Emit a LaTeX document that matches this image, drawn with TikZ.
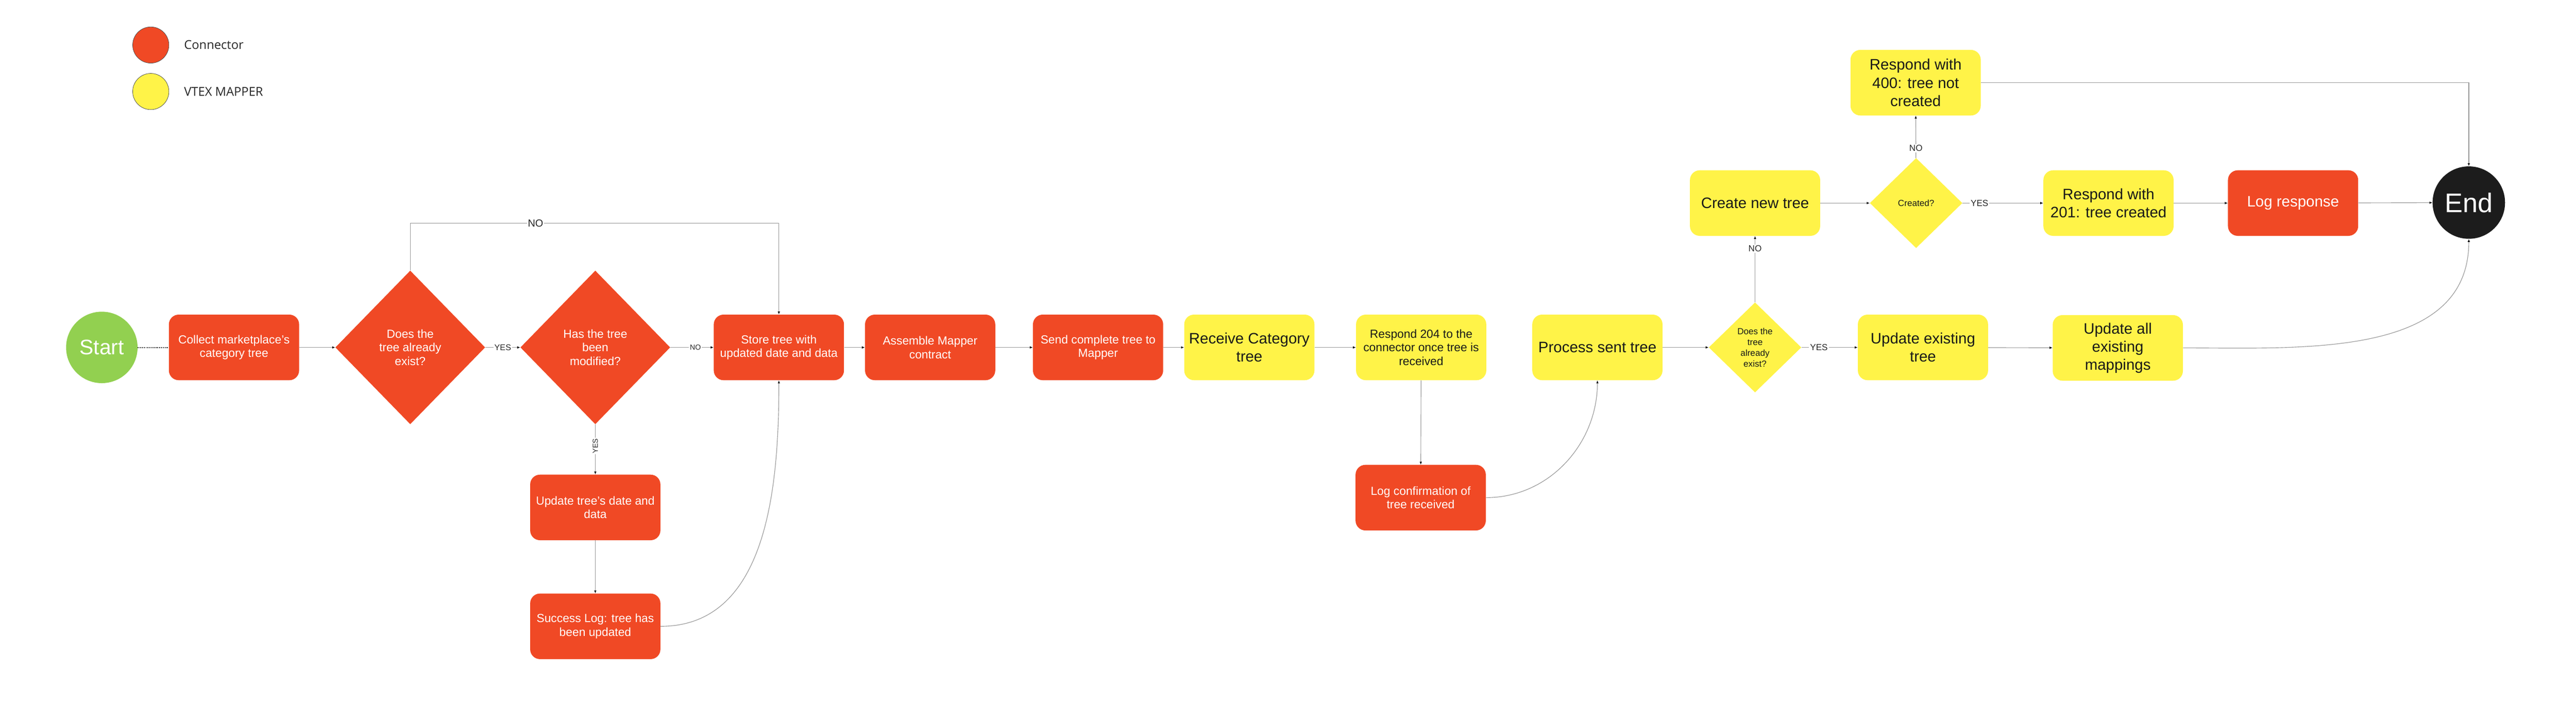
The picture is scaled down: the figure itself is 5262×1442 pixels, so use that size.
\documentclass[tikz,border=0pt]{standalone}
\usepackage{fontspec}
\setmainfont{Liberation Sans}
\newfontfamily\legendfont{Open Sans}
\usetikzlibrary{shapes.geometric,arrows.meta}

\definecolor{connred}{RGB}{240,73,37}
\definecolor{mapyellow}{RGB}{255,243,72}
\definecolor{startgreen}{RGB}{146,208,80}
\definecolor{endblack}{RGB}{28,28,28}
\definecolor{linegray}{RGB}{150,150,150}

\tikzset{
  box/.style={rectangle, rounded corners=10pt, minimum width=133pt, minimum height=67pt, inner sep=2pt, align=center, font=\fontsize{12}{14}\selectfont},
  redbox/.style={box, fill=connred, text=white},
  yellowbox/.style={box, fill=mapyellow, text=black!90},
  bigtext/.style={font=\fontsize{15.5}{18.5}\selectfont},
  reddiamond/.style={diamond, fill=connred, text=white, minimum width=153pt, minimum height=157pt, inner sep=0pt, align=center, font=\fontsize{12}{14}\selectfont},
  yellowdiamond/.style={diamond, fill=mapyellow, text=black!90, minimum width=94.5pt, minimum height=92pt, inner sep=0pt, align=center, font=\fontsize{9}{11}\selectfont},
  terminal/.style={circle, inner sep=0pt, text=white},
  legendball/.style={circle, draw=black!70, line width=0.4pt, minimum size=37pt, inner sep=0pt},
  legendtext/.style={anchor=west, font=\legendfont\fontsize{12.5}{14}\selectfont, text=black!85},
  flow/.style={draw=linegray, line width=0.6pt, -{Latex[length=3pt,width=2.5pt,color=black]}},
  lbl/.style={fill=white, inner sep=1pt, text=black!85, font=\fontsize{9}{10}\selectfont},
  smalllbl/.style={lbl, font=\fontsize{7.5}{8}\selectfont}
}

\begin{document}
\begin{tikzpicture}[x=0.5pt,y=0.5pt,yscale=-1,xscale=1]
\useasboundingbox (0,0) rectangle (5262,1442);

% legend
\node[legendball, fill=connred] (legred) at (308,92) {};
\node[legendtext] (legredtxt) at (369,92) {Connector};
\node[legendball, fill=mapyellow] (legyellow) at (308,187) {};
\node[legendtext] (legyellowtxt) at (369,187) {VTEX MAPPER};

% main row
\node[terminal, fill=startgreen, minimum size=73pt, font=\fontsize{21.5}{24}\selectfont] (start) at (208,710) {Start};
\node[redbox] (collect) at (478,710) {Collect marketplace's\\category tree};
\node[reddiamond] (exist1) at (838,710) {Does the\\tree already\\exist?};
\node[reddiamond] (modified) at (1216,710) {Has the tree\\been\\modified?};
\node[redbox] (store) at (1591,710) {Store tree with\\updated date and data};
\node[redbox] (assemble) at (1900,710) {Assemble Mapper\\contract};
\node[redbox] (send) at (2243,710) {Send complete tree to\\Mapper};
\node[yellowbox, bigtext] (receive) at (2552,710) {Receive Category\\tree};
\node[yellowbox] (resp204) at (2903,710) {Respond 204 to the\\connector once tree is\\received};
\node[yellowbox, bigtext] (process) at (3263,710) {Process sent tree};
\node[yellowdiamond] (exist2) at (3585,710) {Does the\\tree\\already\\exist?};
\node[yellowbox, bigtext] (updexist) at (3928,710) {Update existing\\tree};
\node[yellowbox, bigtext] (updall) at (4326,711) {Update all\\existing\\mappings};

% lower row
\node[redbox] (upddate) at (1216,1037) {Update tree's date and\\data};
\node[redbox] (success) at (1216,1280) {Success Log: tree has\\been updated};
\node[redbox] (logconf) at (2902,1017) {Log confirmation of\\tree received};

% upper row
\node[yellowbox, bigtext] (create) at (3585,415) {Create new tree};
\node[yellowdiamond] (created) at (3914,415) {Created?};
\node[yellowbox, bigtext] (resp201) at (4307,415) {Respond with\\201: tree created};
\node[redbox, bigtext] (logresp) at (4684,415) {Log response};
\node[terminal, fill=endblack, minimum size=74pt, font=\fontsize{27.5}{30}\selectfont] (finish) at (5043,414) {End};
\node[yellowbox, bigtext] (resp400) at (3913,169) {Respond with\\400: tree not\\created};

\coordinate (noturn) at (0,456);

% connectors
\draw[black!80, densely dotted, line width=1pt] (start) -- (collect);
\draw[flow] (collect) -- (exist1);
\draw[flow] (exist1) -- node[lbl, font=\fontsize{8.5}{9}\selectfont]{YES} (modified);
\draw[flow] (modified) -- node[smalllbl, pos=0.58]{NO} (store);
\draw[flow] (exist1.north) -- (exist1.north |- noturn) -- node[lbl, font=\fontsize{10.5}{11}\selectfont, pos=0.34]{NO} (store.north |- noturn) -- (store.north);
\draw[flow] (modified) -- node[smalllbl, rotate=90, pos=0.43]{YES} (upddate);
\draw[flow] (upddate) -- (success);
\draw[flow] (success.east) to[out=0, in=90] (store.south);
\draw[flow] (store) -- (assemble);
\draw[flow] (assemble) -- (send);
\draw[flow] (send) -- (receive);
\draw[flow] (receive) -- (resp204);
\draw[flow] (resp204) -- (logconf);
\draw[flow] (logconf.east) to[out=0, in=90] (process.south);
\draw[flow] (process) -- (exist2);
\draw[flow] (exist2) -- node[lbl, pos=0.31]{YES} (updexist);
\draw[flow] (updexist) -- (updall);
\draw[flow] (updall.east) to[out=0, in=90] (finish.south);
\draw[flow] (exist2) -- node[lbl, pos=0.81]{NO} (create);
\draw[flow] (create) -- (created);
\draw[flow] (created) -- node[lbl, pos=0.21]{YES} (resp201);
\draw[flow] (resp201) -- (logresp);
\draw[flow] (logresp) -- (finish);
\draw[flow] (created) -- node[lbl, pos=0.23]{NO} (resp400);
\draw[flow] (resp400.east) -| (finish.north);
\end{tikzpicture}
\end{document}
